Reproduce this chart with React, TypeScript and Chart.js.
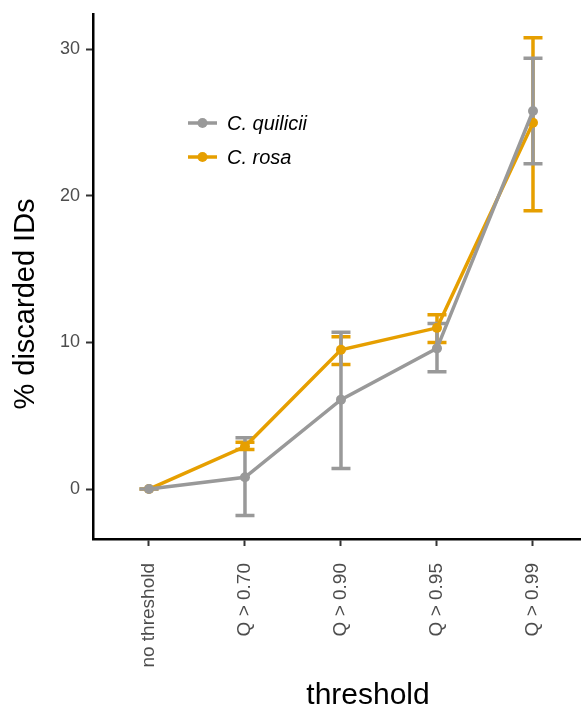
import React, { useEffect, useRef } from "react";
import { Chart, registerables } from "chart.js";

Chart.register(...registerables);

const categories = ["no threshold", "Q > 0.70", "Q > 0.90", "Q > 0.95", "Q > 0.99"];
const yTickValues = [0, 10, 20, 30];

const quiliciiMean = [0, 0.8, 6.1, 9.6, 25.8];
const quiliciiLow = [0, -1.8, 1.4, 8.0, 22.2];
const quiliciiHigh = [0, 3.5, 10.7, 11.3, 29.4];

const rosaMean = [0, 2.9, 9.5, 11.0, 25.0];
const rosaLow = [0, 2.7, 8.5, 10.0, 19.0];
const rosaHigh = [0, 3.2, 10.4, 11.9, 30.8];

const GRAY = "#999999";
const ORANGE = "#E69F00";
const FONT = "'Liberation Sans', Arial, Helvetica, sans-serif";

const seriesList = [
  { label: "C. quilicii", color: GRAY, mean: quiliciiMean, low: quiliciiLow, high: quiliciiHigh },
  { label: "C. rosa", color: ORANGE, mean: rosaMean, low: rosaLow, high: rosaHigh },
];

const errorBarPlugin = {
  id: "errorBars",
  beforeDatasetsDraw(chart: any) {
    const { ctx, scales } = chart;
    const xs = scales.x;
    const ys = scales.y;
    const cap = 9.5;
    [...seriesList].reverse().forEach((s) => {
      ctx.save();
      ctx.strokeStyle = s.color;
      ctx.lineWidth = 3.5;
      ctx.lineCap = "butt";
      s.mean.forEach((_, i) => {
        const px = xs.getPixelForValue(i);
        const pl = ys.getPixelForValue(s.low[i]);
        const ph = ys.getPixelForValue(s.high[i]);
        ctx.beginPath();
        ctx.moveTo(px, pl);
        ctx.lineTo(px, ph);
        ctx.moveTo(px - cap, pl);
        ctx.lineTo(px + cap, pl);
        ctx.moveTo(px - cap, ph);
        ctx.lineTo(px + cap, ph);
        ctx.stroke();
      });
      ctx.restore();
    });
  },
};

const decorPlugin = {
  id: "decor",
  afterDraw(chart: any) {
    const { ctx } = chart;
    ctx.save();
    const legendX = 188;
    const legendY = [123, 157];
    seriesList.forEach((s, i) => {
      const y = legendY[i];
      ctx.strokeStyle = s.color;
      ctx.lineWidth = 3.5;
      ctx.beginPath();
      ctx.moveTo(legendX, y);
      ctx.lineTo(legendX + 29, y);
      ctx.stroke();
      ctx.fillStyle = s.color;
      ctx.beginPath();
      ctx.arc(legendX + 14.5, y, 5, 0, Math.PI * 2);
      ctx.fill();
      ctx.fillStyle = "#000000";
      ctx.font = `italic 20px ${FONT}`;
      ctx.textAlign = "left";
      ctx.textBaseline = "middle";
      ctx.fillText(s.label, legendX + 39, y + 1);
    });
    ctx.fillStyle = "#000000";
    ctx.font = `30px ${FONT}`;
    ctx.textAlign = "center";
    ctx.textBaseline = "middle";
    ctx.fillText("threshold", 368, 696);
    ctx.font = `29px ${FONT}`;
    ctx.translate(26, 304);
    ctx.rotate(-Math.PI / 2);
    ctx.fillText("% discarded IDs", 0, 0);
    ctx.restore();
  },
};

export default function App() {
  const canvasRef = useRef<HTMLCanvasElement | null>(null);

  useEffect(() => {
    document.body.style.margin = "0";
    const canvas = canvasRef.current;
    if (!canvas) return;
    const chart = new Chart(canvas, {
      type: "line",
      data: {
        datasets: seriesList.map((s) => ({
          label: s.label,
          data: s.mean.map((v, i) => ({ x: i, y: v })),
          borderColor: s.color,
          backgroundColor: s.color,
          borderWidth: 3.5,
          pointRadius: 5,
          pointBorderWidth: 0,
          pointBackgroundColor: s.color,
          tension: 0,
          fill: false,
          clip: false,
        })),
      },
      options: {
        animation: false,
        responsive: false,
        devicePixelRatio: 1,
        layout: { autoPadding: false, padding: { top: 14, left: 0, right: 0, bottom: 0 } },
        plugins: {
          legend: { display: false },
          tooltip: { enabled: false },
        },
        scales: {
          x: {
            type: "linear",
            min: -0.583,
            max: 4.5,
            afterBuildTicks: (scale: any) => {
              scale.ticks = categories.map((_, i) => ({ value: i }));
            },
            afterFit: (scale: any) => {
              scale.height = 172;
              scale.paddingLeft = 0;
              scale.paddingRight = 0;
            },
            border: { display: true, color: "#000000", width: 2.5 },
            grid: {
              display: true,
              drawOnChartArea: false,
              drawTicks: true,
              tickLength: 7,
              tickColor: "#333333",
              tickWidth: 2,
            },
            ticks: {
              autoSkip: false,
              maxRotation: 90,
              minRotation: 90,
              padding: 17,
              color: "#4d4d4d",
              font: { family: FONT, size: 19 },
              callback: (v: any) => categories[v as number] ?? "",
            },
          },
          y: {
            type: "linear",
            min: -3.41,
            max: 32.42,
            afterBuildTicks: (scale: any) => {
              scale.ticks = yTickValues.map((v) => ({ value: v }));
            },
            afterFit: (scale: any) => {
              scale.width = 93;
              scale.paddingTop = 0;
              scale.paddingBottom = 0;
            },
            border: { display: true, color: "#000000", width: 2.5 },
            grid: {
              display: true,
              drawOnChartArea: false,
              drawTicks: true,
              tickLength: 7,
              tickColor: "#333333",
              tickWidth: 2,
            },
            ticks: {
              padding: 6,
              color: "#4d4d4d",
              font: { family: FONT, size: 18 },
            },
          },
        },
      },
      plugins: [errorBarPlugin, decorPlugin],
    } as any);
    return () => {
      chart.destroy();
    };
  }, []);

  return (
    <canvas
      ref={canvasRef}
      width={581}
      height={711}
      style={{ display: "block", width: 581, height: 711 }}
    />
  );
}
